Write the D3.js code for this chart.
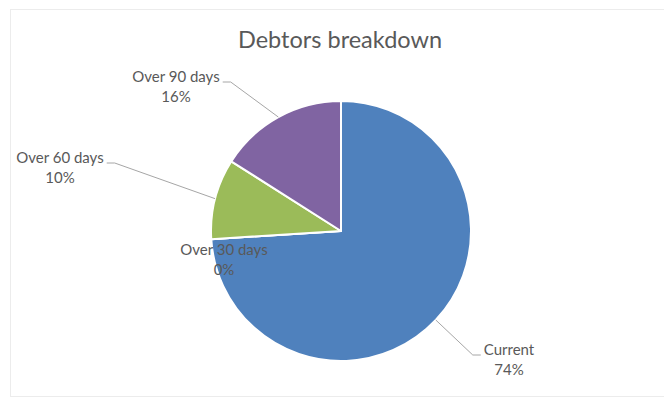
<!DOCTYPE html>
<html>
<head>
<meta charset="utf-8">
<script src="https://cdn.jsdelivr.net/npm/d3@7"></script>
<style>
  body { margin: 0; background: #fff; }
  text { font-family: Lato, "Open Sans", sans-serif; fill: #595959; }
</style>
</head>
<body>
<div id="chart"></div>
<script>
// data
const categories = ["Current", "Over 30 days", "Over 60 days", "Over 90 days"];
const values = [74, 0, 10, 16];
const colours = ["#4f81bd", "#c0504d", "#9bbb59", "#8064a2"];

// label layout: first-line anchor relative to the pie centre
const labelOffsets = [[168, 124], [-117, 24], [-281, -68], [-165, -149]];
const showLeader = [true, false, true, true];

const width = 664, height = 403;
const cx = 341, cy = 231, radius = 130;

const svg = d3.select('#chart')
    .append('svg')
    .attr('width', width)
    .attr('height', height);

// chart area frame
svg.append('rect')
    .attr('x', 10.5).attr('y', 9.5)
    .attr('width', width).attr('height', 387)
    .attr('fill', 'none')
    .attr('stroke', '#ececec');

svg.append('text')
    .attr('x', cx - 1)
    .attr('y', 48)
    .attr('text-anchor', 'middle')
    .attr('font-size', 23.5)
    .text('Debtors breakdown');

const pie = d3.pie().sort(null).value(d => d);
const arcs = pie(values);
const arc = d3.arc().innerRadius(0).outerRadius(radius);

const g = svg.append('g')
    .attr('transform', 'translate(' + cx + ',' + cy + ')');

g.selectAll('path.slice')
    .data(arcs)
    .join('path')
    .attr('class', 'slice')
    .attr('d', arc)
    .attr('fill', (d, i) => colours[i])
    .attr('stroke', '#fff')
    .attr('stroke-width', 2)
    .attr('stroke-linejoin', 'round');

// labels
arcs.forEach(function(d, i) {
    const off = labelOffsets[i];
    const pct = Math.round(d.value / d3.sum(values) * 100) + '%';
    const t1 = g.append('text')
        .attr('x', off[0]).attr('y', off[1])
        .attr('text-anchor', 'middle')
        .attr('font-size', 15)
        .text(categories[i]);
    g.append('text')
        .attr('x', off[0]).attr('y', off[1] + 20)
        .attr('text-anchor', 'middle')
        .attr('font-size', 15)
        .text(pct);

    if (!showLeader[i]) return;
    const w = t1.node().getComputedTextLength();
    const mid = (d.startAngle + d.endAngle) / 2;
    const edge = [radius * Math.sin(mid), -radius * Math.cos(mid)];
    const right = off[0] < edge[0];
    const sx = right ? off[0] + w / 2 + 3 : off[0] - w / 2 - 3;
    const ex = right ? sx + 8 : sx - 8;
    g.insert('path', 'text')
        .attr('d', d3.line()([[sx, off[1]], [ex, off[1]], edge]))
        .attr('fill', 'none')
        .attr('stroke', '#a6a6a6')
        .attr('stroke-width', 1);
});
</script>
</body>
</html>
